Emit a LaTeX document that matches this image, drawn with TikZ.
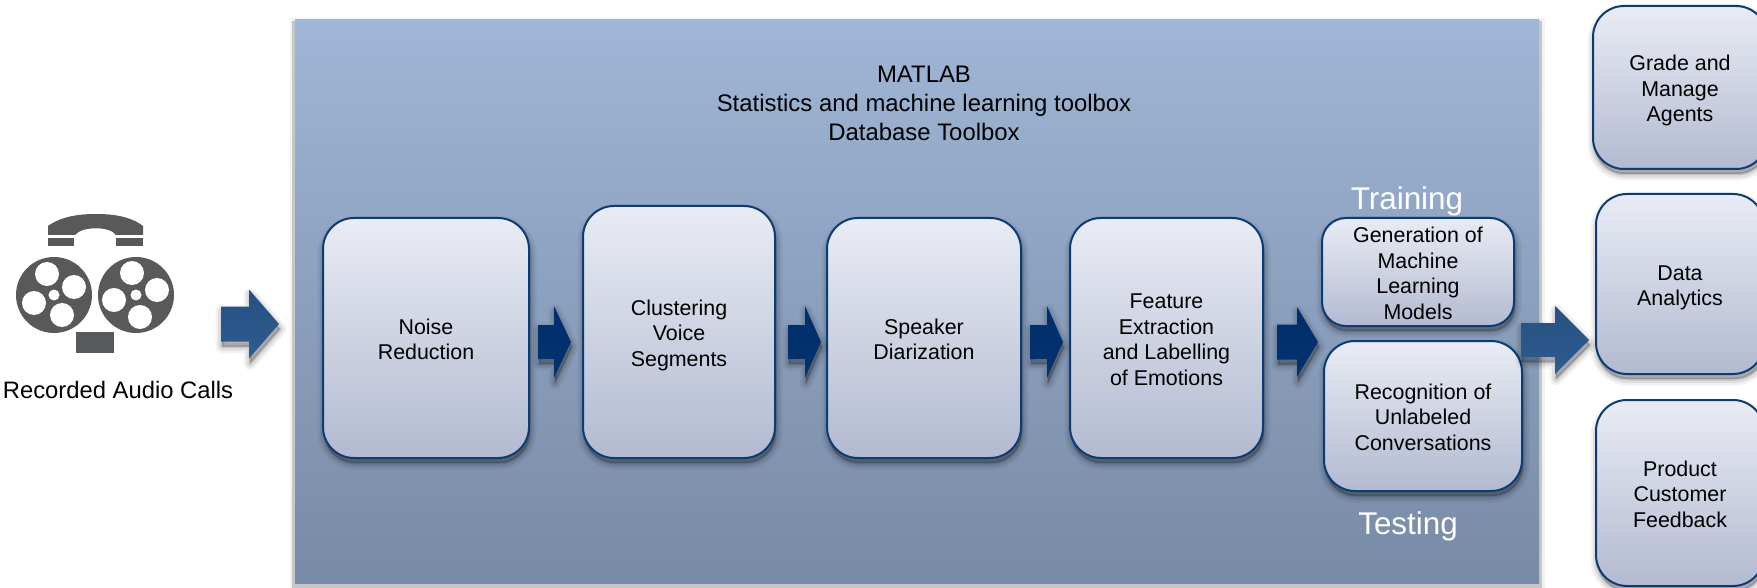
\documentclass[tikz,border=0pt]{standalone}
\usepackage{fontspec}
\setmainfont{Liberation Sans}
\definecolor{boxtop}{HTML}{E9ECF4}
\definecolor{boxbot}{HTML}{B3BAD1}
\definecolor{boxline}{HTML}{0B3C74}
\definecolor{paneltop}{HTML}{9FB6D6}
\definecolor{panelbot}{HTML}{788AA5}
\definecolor{icongrey}{HTML}{58595B}
\definecolor{arrowdark}{HTML}{002E6C}
\definecolor{arrowdarkb}{HTML}{03336F}
\definecolor{arrowtop}{HTML}{265080}
\definecolor{arrowbot}{HTML}{2E5C92}
\tikzset{
  softshadow/.style={
    preaction={draw=black,fill=black,draw opacity=.05,fill opacity=.05,line width=13pt,line join=round,transform canvas={shift={(1pt,-5pt)}}},
    preaction={draw=black,fill=black,draw opacity=.08,fill opacity=.08,line width=8pt,line join=round,transform canvas={shift={(1pt,-5pt)}}},
    preaction={draw=black,fill=black,draw opacity=.12,fill opacity=.12,line width=3pt,line join=round,transform canvas={shift={(1pt,-5pt)}}}},
  flowbox/.style={draw=boxline,line width=2pt,rounded corners=31pt,top color=boxtop,bottom color=boxbot,
    softshadow,align=center,inner sep=0pt,font=\fontsize{21.4}{25.6}\selectfont},
  panelbox/.style={rectangle,top color=paneltop,bottom color=panelbot,
    preaction={draw=black,draw opacity=.05,line width=11pt,transform canvas={yshift=-4pt}},
    preaction={draw=black,draw opacity=.18,line width=6pt,transform canvas={yshift=-4pt}}},
  paneltext/.style={align=center,inner sep=0pt,font=\fontsize{23.9}{29}\selectfont},
  phasetext/.style={text=white,inner sep=0pt,font=\fontsize{31.4}{36}\selectfont},
  smallarrow/.style={top color=arrowdark,bottom color=arrowdarkb,softshadow},
  bigarrow/.style={top color=arrowtop,bottom color=arrowbot,softshadow},
  icon/.style={fill=icongrey,draw=none},
  iconhole/.style={fill=white,draw=none}
}
% even top and bottom room of a text block, so that its lines sit centred in the box
\newcommand{\blocktop}{\rule{0pt}{22.8pt}}
\newcommand{\blockbot}{\rule[-5pt]{0pt}{5pt}}
% #1 style, #2 x start, #3 head base x, #4 tip x, #5 centre y, #6 half shaft, #7 half head
\newcommand{\blockarrow}[7]{%
  \path[#1] (#2,#5-#6) -- (#3,#5-#6) -- (#3,#5-#7) -- (#4,#5) -- (#3,#5+#7) -- (#3,#5+#6) -- (#2,#5+#6) -- cycle;}
\begin{document}
\begin{tikzpicture}[x=1pt,y=-1pt]
\useasboundingbox (0,0) rectangle (1757,588);
\clip (0,0) rectangle (1757,588);
\fill[white] (0,0) rectangle (1757,588);

% icon
\path[icon] (48,235) -- (48,226) .. controls (62,216) and (80,214) .. (96,214)
  .. controls (112,214) and (130,216) .. (143,226) -- (143,235) -- (116,235)
  .. controls (110,226) and (82,226) .. (75,235) -- cycle;
\path[icon] (48,238) rectangle (74,246);
\path[icon] (116,238) rectangle (143,246);
\path[icon] (54,295) circle[radius=38];
\path[icon] (136,295) circle[radius=38];
\path[icon] (76,332) rectangle (114,353);
\foreach \dx/\dy in {-7/-21,20/-8,8/20,-20/8}{
  \path[iconhole] (54+\dx,295+\dy) circle[radius=12];}
\path[iconhole] (54,295) circle[radius=5.5];
\foreach \dx/\dy in {-4/-22,21/-5,4/22,-22/5}{
  \path[iconhole] (136+\dx,295+\dy) circle[radius=12];}
\path[iconhole] (136,295) circle[radius=5.5];
\node[inner sep=0pt,font=\fontsize{23.8}{28}\selectfont] (rec) at (118,390) {Recorded Audio Calls};

% panel
\node[panelbox,minimum width=1244pt,minimum height=563pt,inner sep=0pt] (panel) at (917,301.5) {};
\node[paneltext] (tools) at (924,103.5) {MATLAB\\Statistics and machine learning toolbox\\Database Toolbox};

% flow boxes
\node[flowbox,minimum width=206pt,minimum height=240pt] (noise) at (426,338) {\blocktop Noise\\Reduction\blockbot};
\node[flowbox,minimum width=192pt,minimum height=252pt] (clust) at (679,332) {\blocktop Clustering\\Voice\\Segments\blockbot};
\node[flowbox,minimum width=194pt,minimum height=240pt] (spk) at (924,338) {\blocktop Speaker\\Diarization\blockbot};
\node[flowbox,minimum width=193pt,minimum height=240pt] (feat) at (1166.5,338) {\blocktop Feature\\Extraction\\and Labelling\\of Emotions\blockbot};
\node[flowbox,rounded corners=24pt,minimum width=192pt,minimum height=108pt] (gen) at (1418,272) {\blocktop Generation of\\Machine\\Learning\\Models\blockbot};
\node[flowbox,minimum width=198pt,minimum height=150pt] (recog) at (1423,416) {\blocktop Recognition of\\Unlabeled\\Conversations\blockbot};
\node[phasetext] (train) at (1407,201) {Training};
\node[phasetext] (test) at (1408,526) {Testing};

% output boxes
\node[flowbox,minimum width=174pt,minimum height=163pt] (grade) at (1680,87.5) {\blocktop Grade and\\Manage\\Agents\blockbot};
\node[flowbox,minimum width=168pt,minimum height=180pt] (data) at (1680,284) {\blocktop Data\\Analytics\blockbot};
\node[flowbox,minimum width=168pt,minimum height=186pt] (prod) at (1680,493) {\blocktop Product\\Customer\\Feedback\blockbot};

% arrows
\blockarrow{bigarrow}{221}{249}{279}{324}{17.5}{34.5}
\blockarrow{smallarrow}{538}{554}{571}{342}{17}{36}
\blockarrow{smallarrow}{788}{805}{821}{342}{17}{36}
\blockarrow{smallarrow}{1030}{1047}{1063}{342}{17}{36}
\blockarrow{smallarrow}{1277}{1297}{1318}{342}{17.5}{35}
\blockarrow{bigarrow}{1521}{1555}{1589}{340}{17}{34}
\end{tikzpicture}
\end{document}
